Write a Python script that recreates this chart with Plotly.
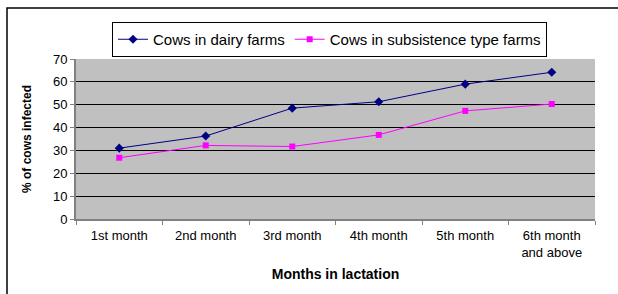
import plotly.graph_objects as go

categories = ["1st month", "2nd month", "3rd month", "4th month", "5th month", "6th month<br>and above"]
dairy = [31.0, 36.3, 48.5, 51.3, 59.0, 64.2]
subsistence = [26.8, 32.2, 31.7, 36.8, 47.3, 50.3]
y_ticks = [0, 10, 20, 30, 40, 50, 60, 70]

FONT = "Liberation Sans, Arial, sans-serif"

fig = go.Figure()
fig.add_trace(go.Scatter(
    x=categories, y=dairy, name="Cows in dairy farms", mode="lines+markers",
    line=dict(color="#000080", width=1),
    marker=dict(symbol="diamond", size=7, color="#000080"),
))
fig.add_trace(go.Scatter(
    x=categories, y=subsistence, name="Cows in subsistence type farms", mode="lines+markers",
    line=dict(color="#FF00FF", width=1),
    marker=dict(symbol="square", size=6, color="#FF00FF"),
))

L, R, T, B = 76, 23, 59, 75
W, H = 618, 294
pw, ph = W - L - R, H - T - B

def px(x):
    return (x - L) / pw

def py(y):
    return (H - B - y) / ph

fig.add_shape(type="rect", xref="paper", yref="paper",
              x0=px(7), x1=px(640), y0=py(8), y1=py(320),
              line=dict(color="black", width=1.5), fillcolor="rgba(0,0,0,0)", layer="below")

fig.update_layout(
    width=W, height=H,
    margin=dict(l=L, r=R, t=T, b=B, autoexpand=False),
    paper_bgcolor="white",
    plot_bgcolor="#C0C0C0",
    font=dict(family=FONT, size=13, color="black"),
    showlegend=True,
    legend=dict(
        orientation="h", x=px(112), y=py(22), xanchor="left", yanchor="top",
        bordercolor="black", borderwidth=1, bgcolor="white",
        font=dict(size=15, family=FONT),
        tracegroupgap=0,
    ),
    xaxis=dict(
        type="category", range=[-0.5, 5.5], tickson="boundaries",
        showgrid=False, showline=True, linecolor="#808080", linewidth=2,
        ticks="outside", ticklen=4, tickcolor="#808080",
        tickfont=dict(size=13), fixedrange=True, ticklabelstandoff=3,
        title=dict(text="<b>Months in lactation</b>", font=dict(size=14), standoff=11),
    ),
    yaxis=dict(
        range=[0, 70], tickvals=y_ticks, showgrid=True, gridcolor="black", gridwidth=1,
        showline=True, linecolor="#808080", linewidth=2,
        ticks="outside", ticklen=4, tickcolor="#808080",
        tickfont=dict(size=13), zeroline=False, fixedrange=True,
        title=dict(text="<b>% of cows infected</b>", font=dict(size=12), standoff=19),
    ),
)

fig.write_html("out.html", config={"displayModeBar": False},
               post_script="document.body.style.margin='0';")
